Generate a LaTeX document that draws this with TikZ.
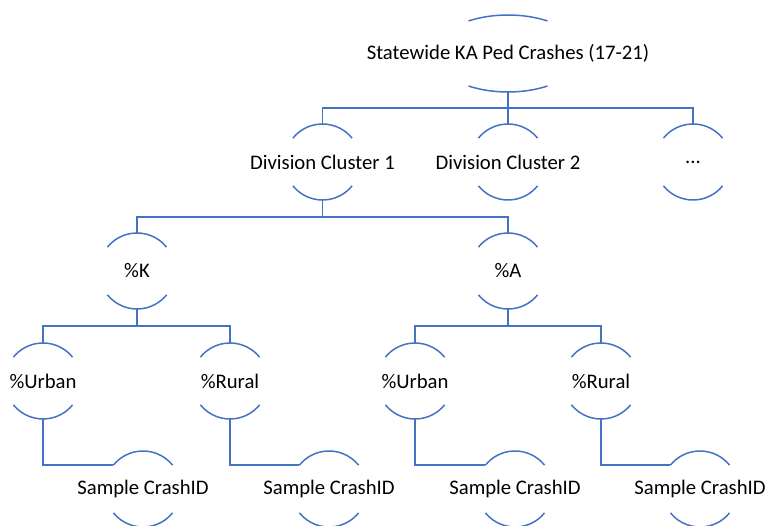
\documentclass[tikz,border=0pt]{standalone}
\usepackage{fontspec}
\setmainfont{Carlito}
\definecolor{lineblue}{HTML}{4472C4}
\newcommand\circarcs[1]{%
  \draw[conn] ([shift={(39:38pt)}]#1.center) arc[start angle=39,end angle=141,radius=38pt];
  \draw[conn] ([shift={(219:38pt)}]#1.center) arc[start angle=219,end angle=321,radius=38pt];}
\begin{document}
\begin{tikzpicture}[x=1pt,y=1pt,
  lbl/.style={rectangle, inner sep=0pt, minimum height=76pt, text=black, font=\fontsize{20.7}{24}\selectfont},
  conn/.style={draw=lineblue, line width=1.5pt}]
\useasboundingbox (0,0) rectangle (765,526);
% nodes
\node[lbl, minimum height=77pt] (top) at (508,472.5) {Statewide KA Ped Crashes (17-21)};
\node[lbl] (dc1) at (322.5,364) {Division Cluster 1};
\node[lbl] (dc2) at (508,364) {Division Cluster 2};
\node[lbl] (dots) at (693,364) {...};
\node[lbl] (k) at (137,255) {\%K};
\node[lbl] (a) at (508,255) {\%A};
\node[lbl] (u1) at (43,145) {\%Urban};
\node[lbl] (r1) at (230,145) {\%Rural};
\node[lbl] (u2) at (415,145) {\%Urban};
\node[lbl] (r2) at (601,145) {\%Rural};
\node[lbl] (s1) at (143,37) {Sample CrashID};
\node[lbl] (s2) at (329,37) {Sample CrashID};
\node[lbl] (s3) at (515,37) {Sample CrashID};
\node[lbl] (s4) at (700,37) {Sample CrashID};
% arcs
\draw[conn] ([shift={(57.6:73.7pt and 38.5pt)}]top.center) arc[start angle=57.6,end angle=122.4,x radius=73.7pt,y radius=38.5pt];
\draw[conn] ([shift={(237.6:73.7pt and 38.5pt)}]top.center) arc[start angle=237.6,end angle=302.4,x radius=73.7pt,y radius=38.5pt];
\foreach \n in {dc1,dc2,dots,k,a,u1,r1,u2,r2,s1,s2,s3,s4}{\circarcs{\n}}
% connectors
\coordinate (b1) at (508,418);
\draw[conn] (top.south) -- (b1);
\draw[conn] (dc1.north) |- (b1) -| (dots.north);
\draw[conn] (dc2.north) -- (b1);
\coordinate (b2) at (322.5,309);
\draw[conn] (dc1.south) -- (b2);
\draw[conn] (k.north) |- (b2) -| (a.north);
\coordinate (b3) at (137,200);
\draw[conn] (k.south) -- (b3);
\draw[conn] (u1.north) |- (b3) -| (r1.north);
\coordinate (b4) at (508,200);
\draw[conn] (a.south) -- (b4);
\draw[conn] (u2.north) |- (b4) -| (r2.north);
\draw[conn] (u1.south) |- ([shift={(141:38pt)}]s1.center);
\draw[conn] (r1.south) |- ([shift={(141:38pt)}]s2.center);
\draw[conn] (u2.south) |- ([shift={(141:38pt)}]s3.center);
\draw[conn] (r2.south) |- ([shift={(141:38pt)}]s4.center);
\end{tikzpicture}
\end{document}
